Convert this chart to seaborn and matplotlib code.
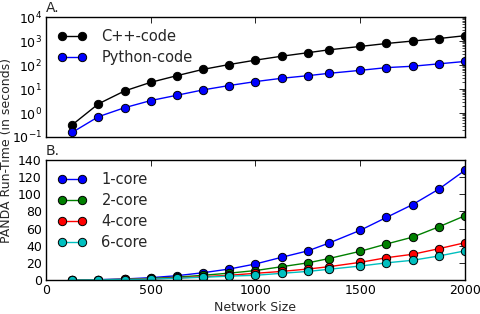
import numpy as np
import pandas as pd
import matplotlib
matplotlib.use("Agg")
import matplotlib.pyplot as plt
import matplotlib.ticker as mticker
import seaborn as sns

sizes = [125, 250, 375, 500, 625, 750, 875, 1000, 1125, 1250, 1350, 1500, 1625, 1750, 1875, 2000]
cpp_code = [0.32, 2.4, 8.3, 19, 36, 66, 105, 160, 233, 326, 430, 595, 790, 1000, 1270, 1670]
python_code = [0.155, 0.70, 1.66, 3.3, 5.5, 9.2, 14, 20.4, 28, 36, 45, 60, 78, 89, 112, 141]
core1 = [0.05, 0.4, 1.2, 2.7, 5.0, 8.5, 12.8, 18.7, 26.5, 34, 43, 58, 73, 88, 106, 128]
core2 = [0.03, 0.25, 0.8, 1.8, 3.3, 5.5, 8.0, 11, 15.5, 20, 25, 33.5, 42, 50, 62, 75]
core4 = [0.03, 0.2, 0.6, 1.3, 2.4, 3.8, 5.5, 7.8, 10, 12.8, 15.5, 20.6, 26, 30, 36.5, 43.5]
core6 = [0.02, 0.15, 0.5, 1.1, 2.0, 3.2, 4.5, 5.5, 7.8, 10, 12.5, 16.3, 20, 23, 28, 34]

sns.set_style("white")
plt.rcParams['font.family'] = ['DejaVu Sans']
plt.rcParams.update({
    'xtick.direction': 'in', 'ytick.direction': 'in',
    'xtick.top': True, 'ytick.right': True,
    'xtick.major.size': 4, 'ytick.major.size': 4,
    'xtick.minor.size': 2, 'ytick.minor.size': 2,
    'xtick.major.width': 0.6, 'ytick.major.width': 0.6,
    'xtick.minor.width': 0.5, 'ytick.minor.width': 0.5,
    'axes.linewidth': 1.0, 'axes.edgecolor': 'black',
    'xtick.color': 'black', 'ytick.color': 'black',
    'xtick.major.pad': 3, 'ytick.major.pad': 3,
})

fig = plt.figure(figsize=(4.81, 3.14), dpi=100)
ax1 = fig.add_axes([0.0956, 0.5637, 0.871, 0.382])
ax2 = fig.add_axes([0.0956, 0.1083, 0.871, 0.382])

mk = dict(marker='o', markersize=6, markeredgecolor='black', markeredgewidth=0.7, linewidth=1.0)
leg_kw = dict(loc='upper left', frameon=False, numpoints=2, fontsize=10.5, handlelength=2.0,
              borderaxespad=0.4, labelspacing=0.42, handletextpad=1.0)

df1 = pd.DataFrame({'size': sizes, 'C++-code': cpp_code, 'Python-code': python_code})
for name, col in [('C++-code', 'black'), ('Python-code', 'blue')]:
    sns.lineplot(data=df1, x='size', y=name, ax=ax1, color=col, label=name, markerfacecolor=col, **mk)
ax1.set_yscale('log')
ax1.set_ylim(1e-1, 1e4)
ax1.yaxis.set_major_locator(mticker.LogLocator(base=10, numticks=10))
ax1.yaxis.set_minor_locator(mticker.LogLocator(base=10, subs=np.arange(2, 10), numticks=20))
ax1.yaxis.set_minor_formatter(mticker.NullFormatter())
ax1.set_xlim(0, 2000)
ax1.set_xticks([0, 500, 1000, 1500, 2000])
ax1.set_xticklabels([])
ax1.set_xlabel('')
ax1.set_ylabel('')
ax1.tick_params(axis='both', which='both', direction='in', top=True, right=True, labelsize=9)
ax1.legend(**leg_kw)
ax1.text(0.0, 1.02, 'A.', transform=ax1.transAxes, fontsize=10, ha='left', va='bottom')

df2 = pd.DataFrame({'size': sizes, '1-core': core1, '2-core': core2, '4-core': core4, '6-core': core6})
for name, col in [('1-core', 'blue'), ('2-core', 'green'), ('4-core', 'red'), ('6-core', 'c')]:
    sns.lineplot(data=df2, x='size', y=name, ax=ax2, color=col, label=name, markerfacecolor=col, **mk)
ax2.set_xlim(0, 2000)
ax2.set_ylim(0, 140)
ax2.set_xticks([0, 500, 1000, 1500, 2000])
ax2.set_yticks(range(0, 141, 20))
ax2.set_xlabel('Network Size', fontsize=9, labelpad=3)
ax2.set_ylabel('')
ax2.tick_params(axis='both', which='both', direction='in', top=True, right=True, labelsize=9)
ax2.legend(**leg_kw)
ax2.text(0.0, 1.02, 'B.', transform=ax2.transAxes, fontsize=10, ha='left', va='bottom')

fig.text(0.014, 0.52, 'PANDA Run-Time (in seconds)', rotation=90, ha='center', va='center', fontsize=9)

fig.savefig('out.png', dpi=100)
